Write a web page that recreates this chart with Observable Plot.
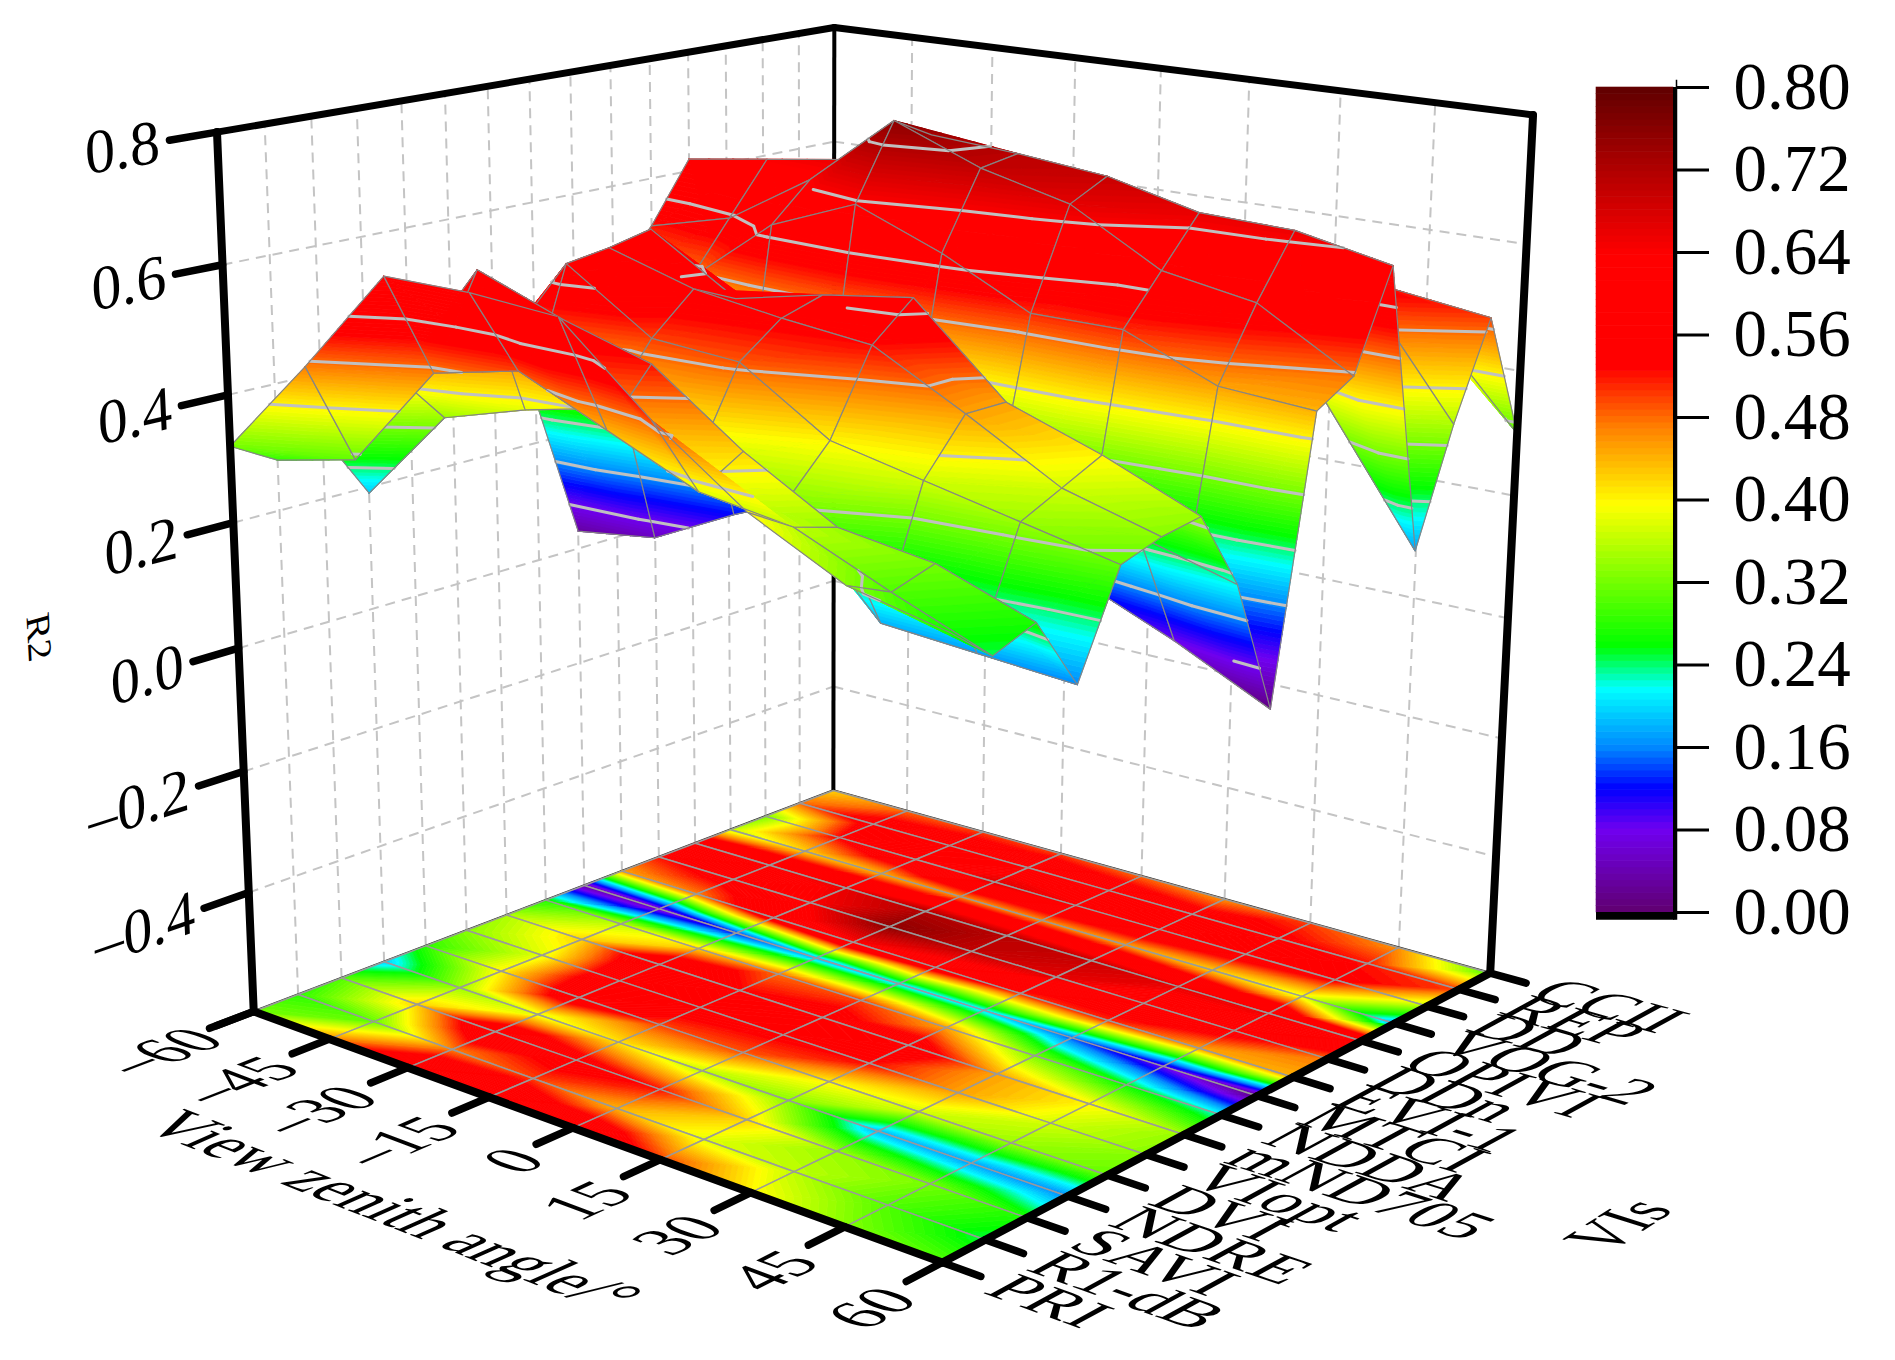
<!DOCTYPE html>
<html><head><meta charset="utf-8">
<script src="https://cdn.jsdelivr.net/npm/d3@7"></script>
<script src="https://cdn.jsdelivr.net/npm/@observablehq/plot@0.6"></script>
<style>html,body{margin:0;padding:0;background:#fff;overflow:hidden}#c{position:relative;width:1895px;height:1360px}</style>
</head><body><div id="c"></div><script>
const angles=[-60,-45,-30,-15,0,15,30,45,60];
const vis=["PRI","R1-dB","SAVI","NDRE","DVI","VIopt","mND705","NDDA","MTCI","EVI-1","DDn","OPIVI","VOG-2","DD","REP","CCII"];
const zTicks=[-0.4,-0.2,0,0.2,0.4,0.6,0.8];
const barTicks=[0,0.08,0.16,0.24,0.32,0.40,0.48,0.56,0.64,0.72,0.80];
const rPRI=[.32,.47,.63,.63,.62,.50,.40,.33,.30];
const rR1=[.28,.31,.47,.50,.44,.38,.36,.30,.245];
const rSAVI=[.30,.42,.61,.56,.52,.42,.34,.32,.27];
const rNDRE=[.19,.34,.38,.41,.36,.33,.18,.17,.16];
const rDVI=[.28,.40,.59,.50,.49,.40,.37,.34,.31];
const rVIopt=[.33,.38,.60,.56,.54,.525,.45,.37,.33];
const rmND=[.35,.42,.615,.53,.56,.58,.45,.40,.34];
const rNDDA=[.27,.36,.42,.48,.50,.45,.32,.26,.22];
const rMTCI=[.03,.05,.12,.18,.20,.20,.14,.08,.01];
const rEVI=[.45,.47,.58,.635,.58,.51,.51,.45,.44];
const rDDn=[.52,.555,.64,.755,.70,.665,.585,.56,.475];
const rOPIVI=[.62,.64,.66,.72,.71,.695,.66,.655,.625];
const rVOG=[.36,.42,.44,.46,.46,.45,.42,.38,.17];
const rDD=[.32,.53,.60,.67,.645,.62,.58,.54,.35];
const rREP=[.48,.56,.58,.60,.58,.56,.54,.52,.50];
const rCCII=[.42,.48,.50,.50,.48,.46,.50,.46,.30];
const r2=[rPRI,rR1,rSAVI,rNDRE,rDVI,rVIopt,rmND,rNDDA,rMTCI,rEVI,rDDn,rOPIVI,rVOG,rDD,rREP,rCCII];

const colorStops=[0,.08,.12,.16,.2166,.258,.395,.47,.528,.637,.72,.8];
const colorHex=["#600070","#7000f0","#0000ff","#0088ff","#00ffff","#00ff00","#ffff00","#ff8000","#ff0000","#ff0000","#b00000","#600000"];
const color=Plot.scale({color:{type:"linear",domain:colorStops,range:colorHex}});
const bandW=0.00625;

const W=1895,H=1360,font="Liberation Serif";
const calib=[[0,0,0,253.5,1011.5],[1,0,0,941,1262],[1,1,0,1490,972],[0,1,0,833,790],[0,0,1,217,131],[1,1,1,1533,115],[0,1,1,833,27]];
function solveCamera(){
  const rows=[],rhs=[];
  for(const [X,Y,Z,x0,y0] of calib){const x=x0/1000,y=y0/1000;
    rows.push([X,Y,Z,1,0,0,0,0,-x*X,-x*Y,-x*Z]);rhs.push(x);
    rows.push([0,0,0,0,X,Y,Z,1,-y*X,-y*Y,-y*Z]);rhs.push(y);}
  const n=11,A=d3.range(n).map(()=>new Array(n+1).fill(0));
  rows.forEach((r,k)=>{for(let a=0;a<n;a++){for(let b=0;b<n;b++)A[a][b]+=r[a]*r[b];A[a][n]+=r[a]*rhs[k];}});
  for(let c=0;c<n;c++){let m=c;for(let r=c+1;r<n;r++)if(Math.abs(A[r][c])>Math.abs(A[m][c]))m=r;[A[c],A[m]]=[A[m],A[c]];
    for(let r=0;r<n;r++)if(r!==c){const f=A[r][c]/A[c][c];for(let k=c;k<=n;k++)A[r][k]-=f*A[c][k];}}
  return A.map((r,i)=>r[n]/r[i]);
}
const cam=solveCamera();
function P([u,v,w]){const d=cam[8]*u+cam[9]*v+cam[10]*w+1;
  return [1000*(cam[0]*u+cam[1]*v+cam[2]*w+cam[3])/d,1000*(cam[4]*u+cam[5]*v+cam[6]*w+cam[7])/d];}
const U=a=>(a+60)/120,V=j=>j/15,Wz=z=>(z+.6)/1.4;

function meshLayer(onFloor){
  const out=[];let id=0;
  const pt=(t)=>P([t[0],t[1],onFloor?0:Wz(t[2])]);
  const add=(pts,fill,stroke,sw)=>{const k=onFloor+"-"+id++;for(const p of pts){const q=pt(p);out.push({id:k,x:q[0],y:q[1],fill,stroke,sw});}};
  function clip(poly,lim,keepAbove){const res=[];for(let a=0;a<poly.length;a++){const p=poly[a],q=poly[(a+1)%poly.length];
      const pi=keepAbove?p[2]>=lim:p[2]<=lim,qi=keepAbove?q[2]>=lim:q[2]<=lim;
      if(pi)res.push(p);
      if(pi!==qi){const t=(lim-p[2])/(q[2]-p[2]);res.push([p[0]+t*(q[0]-p[0]),p[1]+t*(q[1]-p[1]),lim]);}}
    return res;}
  function tri(a,b,c){
    const lo=Math.min(a[2],b[2],c[2]),hi=Math.max(a[2],b[2],c[2]);
    for(let k=Math.floor(lo/bandW);k*bandW<hi;k++){
      let poly=clip([a,b,c],k*bandW,true);if(poly.length<3)continue;
      poly=clip(poly,(k+1)*bandW,false);if(poly.length<3)continue;
      const col=color.apply(Math.min(.8,(k+.5)*bandW));
      add([...poly,poly[0]],col,col,.8);
    }
  }
  function contour(a,b,c){
    for(const L of barTicks){const s=[];
      for(const [p,q] of [[a,b],[b,c],[c,a]]){ if((p[2]-L)*(q[2]-L)<0){const t=(L-p[2])/(q[2]-p[2]);s.push([p[0]+t*(q[0]-p[0]),p[1]+t*(q[1]-p[1]),L]);}}
      if(s.length===2)add(s,"none","#c0c0c0",3);
    }
  }
  for(let j=vis.length-2;j>=0;j--)for(let i=0;i<angles.length-1;i++){
    const c=(ii,jj)=>[U(angles[ii]),V(jj),r2[jj][ii]];
    const a=c(i,j),b=c(i+1,j),d=c(i+1,j+1),e=c(i,j+1);
    tri(a,b,d);tri(a,d,e);
    if(!onFloor){contour(a,b,d);contour(a,d,e);}
    add([a,b,d,e,a],"none",onFloor?"#9a9a9a":"#858585",onFloor?1.5:1.2);
  }
  return out;
}
const floorPolys=meshLayer(true);
const surfPolys=meshLayer(false);

const seg=(a,b)=>{const p=P(a),q=P(b);return {x1:p[0],y1:p[1],x2:q[0],y2:q[1]};};
const wallGrid=[];
for(const z of [...zTicks,-.6]){wallGrid.push(seg([0,0,Wz(z)],[0,1,Wz(z)]));wallGrid.push(seg([0,1,Wz(z)],[1,1,Wz(z)]));}
vis.forEach((_,j)=>wallGrid.push(seg([0,V(j),0],[0,V(j),1])));
angles.forEach(a=>wallGrid.push(seg([U(a),1,0],[U(a),1,1])));
const backEdges=[seg([0,1,0],[0,1,1])];
const floorBack=[seg([0,0,0],[0,1,0]),seg([0,1,0],[1,1,0])];
const frameTop=[seg([0,0,1],[0,1,1]),seg([0,1,1],[1,1,1])];
const frameAxes=[seg([0,0,0],[0,0,1]),seg([1,1,0],[1,1,1]),seg([0,0,0],[1,0,0]),seg([1,0,0],[1,1,0])];
const ticks=[
  ...angles.map(a=>seg([U(a),0,0],[U(a),-.055,0])),
  ...vis.map((_,j)=>seg([1,V(j),0],[1.048,V(j),0])),
  ...[-.6,...zTicks].map(z=>seg([0,0,Wz(z)],[0,-.065,Wz(z)]))
];

const X=[1,0,0],Y=[0,1,0],Z=[0,0,1],nX=[-1,0,0],nZ=[0,0,-1];
const groups=[
 {anchor:"end",size:66,sx:.92,sy:.95,rows:[...zTicks].map(z=>({text:(z<0?"\u2013":"")+Math.abs(z).toFixed(1),p:[0,-.078,Wz(z)],base:Y,up:Z}))},
 {anchor:"end",size:56,sx:1.15,sy:1.25,rows:angles.map(a=>({text:(a<0?"\u2013":"")+Math.abs(a),p:[U(a)+.012,-.078,0],base:Y,up:nX}))},
 {anchor:"start",size:52,sx:1.32,sy:1.2,rows:vis.map((s,j)=>({text:s,p:[1.07,V(j),0],base:X,up:Y}))},
 {anchor:"middle",size:56,sx:1.13,sy:1.3,rows:[{text:"View zenith angle/\u00b0",p:[.505,-.2625,0],base:X,up:Y}]},
 {anchor:"middle",size:56,sx:1.0,sy:1.3,rows:[{text:"VIs",p:[1.46,.50,0],base:Y,up:nX}]},
 {anchor:"middle",size:50,sx:.8,sy:.7,rows:[{text:"R2",p:[0,-.27,Wz(.105)],base:nZ,up:Y}]}
];
const textMarks=groups.map(g=>Plot.text(g.rows,{x:d=>P(d.p)[0],y:d=>P(d.p)[1],text:"text",textAnchor:g.anchor,fontSize:g.size,fontFamily:font,fill:"#000",lineAnchor:"middle"}));

const chart=Plot.plot({width:W,height:H,margin:0,
  x:{domain:[0,W],range:[0,W],axis:null},y:{domain:[0,H],range:[0,H],axis:null},
  color:{type:"identity"},
  marks:[
    Plot.link(wallGrid,{x1:"x1",y1:"y1",x2:"x2",y2:"y2",stroke:"#c4c4c4",strokeWidth:2,strokeDasharray:"10,7"}),
    Plot.link(floorBack,{x1:"x1",y1:"y1",x2:"x2",y2:"y2",stroke:"#333",strokeWidth:2.5}),
    Plot.link(backEdges,{x1:"x1",y1:"y1",x2:"x2",y2:"y2",stroke:"#000",strokeWidth:4}),
    Plot.link(frameTop,{x1:"x1",y1:"y1",x2:"x2",y2:"y2",stroke:"#000",strokeWidth:7,strokeLinecap:"round"}),
    Plot.line(floorPolys,{x:"x",y:"y",z:"id",fill:"fill",stroke:"stroke",strokeWidth:"sw"}),
    Plot.line(surfPolys,{x:"x",y:"y",z:"id",fill:"fill",stroke:"stroke",strokeWidth:"sw"}),
    Plot.link(frameAxes,{x1:"x1",y1:"y1",x2:"x2",y2:"y2",stroke:"#000",strokeWidth:8,strokeLinecap:"round"}),
    Plot.link(ticks,{x1:"x1",y1:"y1",x2:"x2",y2:"y2",stroke:"#000",strokeWidth:7.5,strokeLinecap:"round"}),
    ...textMarks
  ]});
const textGroups=chart.querySelectorAll('g[aria-label="text"]');
groups.forEach((g,gi)=>{
  d3.select(textGroups[gi]).selectAll("text").attr("transform",(_,k)=>{
    const d=g.rows[k],o=P(d.p),e=.02;
    const add=(p,q)=>p.map((c,n)=>c+e*q[n]);
    const b=P(add(d.p,d.base)),t=P(add(d.p,d.up));
    const bl=Math.hypot(b[0]-o[0],b[1]-o[1]),tl=Math.hypot(t[0]-o[0],t[1]-o[1]);
    return `matrix(${(b[0]-o[0])/bl*g.sx},${(b[1]-o[1])/bl*g.sx},${-(t[0]-o[0])/tl*g.sy},${-(t[1]-o[1])/tl*g.sy},${o[0]},${o[1]})`;
  });
});
document.getElementById("c").append(chart);

const barLevels=d3.range(128).map(k=>k*bandW);
const bar=Plot.plot({width:W,height:H,marginLeft:1596,marginRight:W-1676,marginTop:87,marginBottom:H-912,
  style:{position:"absolute",left:"0",top:"0",background:"transparent"},
  x:{domain:[0,1],axis:null},y:{domain:[0,.8],axis:null},
  color:{type:"linear",domain:colorStops,range:colorHex},
  marks:[
    Plot.rect(barLevels,{x1:0,x2:.9625,y1:d=>d,y2:d=>d+bandW,fill:d=>d+bandW/2,inset:-.3}),
    Plot.rect([0],{x1:0,x2:.98,y1:-.0075,y2:0,fill:"#000"}),
    Plot.ruleX([.975],{y1:-.0075,y2:.8,stroke:"#000",strokeWidth:3}),
    Plot.ruleX([1],{y1:-.0075,y2:.807,stroke:"#000",strokeWidth:1.5}),
    Plot.axisY(barTicks,{anchor:"right",tickFormat:d3.format(".2f"),tickSize:32,tickPadding:25,fontSize:67,fontFamily:font,strokeWidth:3,label:null,fill:"#000",stroke:"#000"})
  ]});
document.getElementById("c").append(bar);
</script></body></html>
